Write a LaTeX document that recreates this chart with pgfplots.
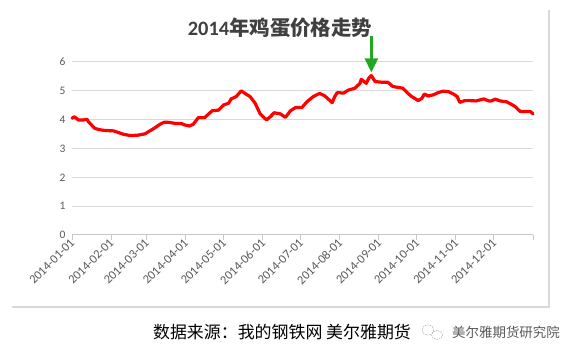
\documentclass[border=0pt]{standalone}
\usepackage{pgfplots}
\pgfplotsset{compat=1.18}
\usepackage{fontspec}
\setmainfont{Carlito}
\newfontfamily\cjk{Noto Sans CJK SC}
\usetikzlibrary{arrows.meta}
\definecolor{gridgray}{HTML}{D9D9D9}
\definecolor{axisgray}{HTML}{C8C8C8}
\definecolor{tickgray}{HTML}{595959}
\definecolor{titlegray}{HTML}{404040}
\definecolor{arrowgreen}{HTML}{22A722}
\pgfplotstableread{
day price
0 4.05
2 4.10
5 3.99
9 3.99
12 4.01
13 3.93
16 3.79
18 3.70
21 3.66
25 3.63
33 3.61
37 3.55
41 3.49
46 3.45
52 3.46
58 3.51
60 3.57
64 3.67
67 3.76
70 3.85
73 3.91
76 3.91
82 3.87
87 3.86
89 3.82
93 3.78
96 3.84
100 4.07
105 4.07
111 4.31
116 4.33
120 4.51
124 4.57
126 4.72
130 4.80
134 5.00
138 4.88
141 4.80
145 4.57
149 4.20
154 3.99
157 4.10
160 4.24
165 4.20
169 4.08
173 4.31
177 4.42
182 4.42
186 4.62
191 4.80
196 4.91
200 4.83
203 4.71
206 4.59
208 4.80
210 4.94
215 4.92
219 5.03
224 5.09
228 5.26
229 5.40
233 5.26
235 5.44
237 5.53
240 5.32
245 5.30
250 5.30
254 5.15
258 5.12
262 5.09
266 4.91
269 4.80
272 4.72
274 4.66
277 4.74
279 4.89
282 4.82
286 4.86
290 4.94
294 4.99
298 4.97
302 4.89
305 4.80
307 4.60
311 4.66
315 4.66
320 4.65
326 4.72
330 4.65
332 4.65
335 4.71
339 4.65
344 4.62
348 4.53
351 4.45
355 4.28
359 4.28
363 4.28
365 4.20
}\eggdata
\begin{document}
\begin{tikzpicture}
\useasboundingbox (0,0) rectangle (580bp,362bp);
% chart frame (right and bottom edges)
\draw[gridgray, line width=1.2bp] (12bp,55bp) -- (549bp,55bp) -- (549bp,352bp);
\begin{axis}[
  at={(72bp,127bp)}, anchor=south west,
  scale only axis, width=461bp, height=173bp,
  xmin=0, xmax=365, ymin=0, ymax=6,
  clip=false,
  axis x line*=bottom, axis y line*=left,
  x axis line style={axisgray, line width=1bp},
  y axis line style={draw=none},
  xtick={0,31,59,90,120,151,181,212,243,273,304,334,365},
  xticklabels={2014-01-01,2014-02-01,2014-03-01,2014-04-01,2014-05-01,2014-06-01,2014-07-01,2014-08-01,2014-09-01,2014-10-01,2014-11-01,2014-12-01,{}},
  xtick align=outside, xtick pos=bottom,
  major tick length=5bp,
  xtick style={axisgray, line width=1bp},
  ytick={0,1,2,3,4,5,6},
  ytick style={draw=none},
  ymajorgrids, grid style={gridgray, line width=1bp},
  /pgf/number format/assume math mode=true,
  yticklabel style={font=\fontsize{11.5}{13}\selectfont, text=tickgray, xshift=-3bp},
  xticklabel style={font=\fontsize{12.5}{14}\selectfont, text=tickgray, rotate=45, anchor=east, xshift=3bp, yshift=-1bp},
]
\addplot[red, line width=3.2bp, line join=round, line cap=round] table[x=day, y=price] {\eggdata};
\draw[arrowgreen, line width=2.6bp, -{Triangle[width=13bp,length=14bp]}] (axis cs:237,6.9) -- (axis cs:237,5.64);
\end{axis}
\node[font=\fontsize{20.5}{24}\selectfont\bfseries, text=titlegray] at (280bp,334bp) {2014{\cjk\bfseries 年鸡蛋价格走势}};
\node[font=\cjk\fontsize{17}{20}\selectfont, text=black] at (282bp,30bp) {数据来源：我的钢铁网 美尔雅期货};
\node[font=\cjk\fontsize{13.5}{16}\selectfont, text=tickgray] at (506bp,30bp) {美尔雅期货研究院};
\draw[gray!60, line width=0.6bp, dash pattern=on 1.5bp off 1bp] (428bp,32bp) ellipse (6bp and 5bp);
\draw[gray!60, line width=0.6bp, dash pattern=on 1.5bp off 1bp] (437bp,27bp) ellipse (5.5bp and 4.5bp);
\end{tikzpicture}
\end{document}
